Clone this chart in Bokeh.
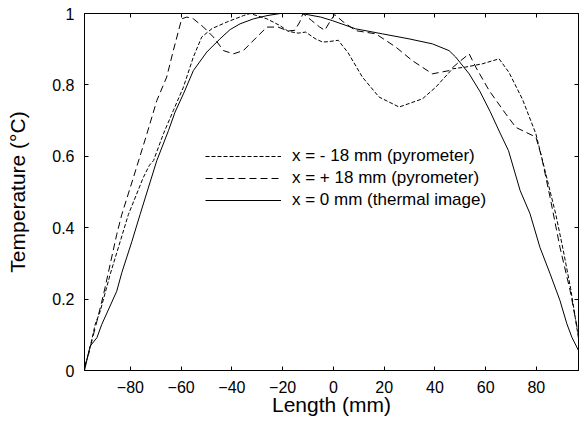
from bokeh.plotting import figure
from bokeh.models import Range1d, FixedTicker, LinearAxis, Legend, LegendItem, CustomLabelingPolicy
from bokeh.embed import file_html
from bokeh.resources import INLINE

# Length positions (mm) and normalised temperature for each profile
x_minus18 = [-98.1, -96.5, -93.9, -91.9, -88.0, -84.0, -80.8, -74.9, -72.5, -70.9, -67.0,
             -63.1, -59.1, -55.2, -51.9, -47.8, -42.0, -35.5, -32.8, -26.2, -21.0, -17.8,
             -13.9, -10.9, -7.3, -4.3, -2.1, 1.9, 5.8, 11.4, 18.0, 25.9, 35.1, 40.4, 46.9,
             52.2, 58.7, 65.3, 69.2, 74.5, 79.8, 83.7, 87.6, 90.5, 93.5, 96.6]
t_minus18 = [0.012, 0.045, 0.129, 0.166, 0.269, 0.362, 0.437, 0.541, 0.575, 0.588, 0.663,
             0.728, 0.794, 0.878, 0.934, 0.958, 0.976, 0.994, 1.0, 0.985, 0.966, 0.950,
             0.945, 0.948, 0.930, 0.920, 0.921, 0.925, 0.890, 0.822, 0.766, 0.738, 0.761, 0.794, 0.845,
             0.850, 0.859, 0.873, 0.835, 0.760, 0.663, 0.551, 0.439, 0.340, 0.230, 0.090]

x_plus18 = [-98.1, -95.9, -93.2, -90.6, -88.0, -85.4, -83.4, -78.8, -73.5, -69.6, -65.7,
            -63.1, -59.8, -57.8, -55.2, -51.2, -47.3, -43.3, -39.4, -35.5, -30.2, -26.2,
            -21.8, -17.9, -15.2, -13.2, -12.0, -8.7, -5.4, -3.4, -1.4, 0.5, 3.8, 8.8, 16.7,
            24.6, 31.1, 39.0, 45.6, 49.5, 53.5, 56.1, 61.4, 67.9, 71.9, 77.1, 79.8, 82.0,
            85.4, 89.3, 93.3, 96.6]
t_plus18 = [0.008, 0.064, 0.138, 0.213, 0.297, 0.381, 0.437, 0.541, 0.663, 0.756, 0.822,
            0.896, 0.985, 0.990, 0.985, 0.962, 0.934, 0.896, 0.887, 0.896, 0.934, 0.962,
            0.962, 0.951, 0.953, 0.977, 1.0, 0.981, 0.962, 0.953, 0.977, 0.997, 0.977, 0.952, 0.943,
            0.906, 0.868, 0.831, 0.840, 0.864, 0.887, 0.850, 0.784, 0.719, 0.681, 0.663, 0.654, 0.600,
            0.485, 0.345, 0.224, 0.100]

x_zero = [-98.1, -95.9, -93.2, -91.3, -85.4, -83.4, -79.4, -76.2, -69.6, -65.0, -62.4,
          -59.1, -55.2, -49.9, -44.7, -40.7, -36.8, -31.5, -26.2, -21.0, -12.6, -5.0,
          -0.4, 8.8, 19.3, 29.8, 39.0, 45.6, 48.2, 53.5, 57.8, 61.8, 65.7, 69.0, 73.6,
          77.5, 81.4, 85.4, 89.3, 92.0, 94.0, 96.6]
t_zero = [0.0, 0.068, 0.092, 0.129, 0.222, 0.274, 0.362, 0.437, 0.588, 0.672, 0.724,
          0.775, 0.840, 0.892, 0.929, 0.955, 0.971, 0.985, 0.994, 1.0, 1.0, 0.99,
          0.980, 0.957, 0.943, 0.929, 0.915, 0.896, 0.878, 0.831, 0.781, 0.725, 0.665, 0.616, 0.504,
          0.439, 0.345, 0.271, 0.196, 0.131, 0.093, 0.056]

x_ticks = [-80, -60, -40, -20, 0, 20, 40, 60, 80]
y_ticks = [0, 0.2, 0.4, 0.6, 0.8, 1]
y_tick_labels = ["0", "0.2", "0.4", "0.6", "0.8", "1"]

labels = ["x = - 18 mm (pyrometer)", "x = + 18 mm (pyrometer)", "x = 0 mm (thermal image)"]

FONT = "Liberation Sans"

p = figure(width=579, height=429, output_backend="svg", toolbar_location=None,
           x_range=Range1d(-98.1, 96.6), y_range=Range1d(0, 1),
           min_border_left=84, min_border_right=1, min_border_top=13, min_border_bottom=59,
           x_axis_label="Length (mm)", y_axis_label="Temperature (°C)")
p.background_fill_color = "white"
p.border_fill_color = "white"
p.outline_line_color = "black"
p.outline_line_width = 1
p.grid.visible = False

r1 = p.line(x_minus18, t_minus18, line_color="black", line_width=1, line_dash="4 2")
r2 = p.line(x_plus18, t_plus18, line_color="black", line_width=1, line_dash="7 4")
r3 = p.line(x_zero, t_zero, line_color="black", line_width=1)

p.xaxis.ticker = FixedTicker(ticks=x_ticks)
p.yaxis.ticker = FixedTicker(ticks=y_ticks)
p.yaxis.major_label_overrides = {t: s for t, s in zip(y_ticks, y_tick_labels)}

for ax in (p.xaxis[0], p.yaxis[0]):
    ax.major_tick_in = 4
    ax.major_tick_out = 0
    ax.minor_tick_in = 0
    ax.minor_tick_out = 0
    ax.major_tick_line_color = "black"
    ax.axis_line_color = "black"
    ax.major_label_text_font = FONT
    ax.major_label_text_font_size = "16px"
    ax.major_label_text_color = "black"
    ax.major_label_standoff = 10
    ax.axis_label_text_font = FONT
    ax.axis_label_text_font_size = "21px"
    ax.axis_label_text_font_style = "normal"
    ax.axis_label_text_color = "black"

p.xaxis.axis_label_standoff = -3
p.yaxis.axis_label_standoff = 20

# Mirror ticks on the top and right sides, with every label filtered out
hide_all = "for (const i of indices) indices.unset(i)"
for loc, tick_vals in (("above", x_ticks), ("right", y_ticks)):
    ax = LinearAxis(ticker=FixedTicker(ticks=tick_vals),
                    major_label_policy=CustomLabelingPolicy(code=hide_all))
    ax.major_tick_in = 4
    ax.major_tick_out = 0
    ax.minor_tick_in = 0
    ax.minor_tick_out = 0
    ax.major_tick_line_color = "black"
    ax.axis_line_color = "black"
    ax.major_label_text_font_size = "0px"
    ax.major_label_standoff = 0
    p.add_layout(ax, loc)

legend = Legend(items=[LegendItem(label=labels[0], renderers=[r1]),
                       LegendItem(label=labels[1], renderers=[r2]),
                       LegendItem(label=labels[2], renderers=[r3])],
                location=(121, 160), orientation="vertical",
                padding=0, margin=0, spacing=2,
                glyph_width=76, glyph_height=20, label_height=20,
                label_standoff=11,
                label_text_font=FONT, label_text_font_size="17px",
                label_text_color="black",
                background_fill_alpha=0, border_line_alpha=0)
p.add_layout(legend, "center")

open("out.html", "w").write(file_html(p, INLINE))
